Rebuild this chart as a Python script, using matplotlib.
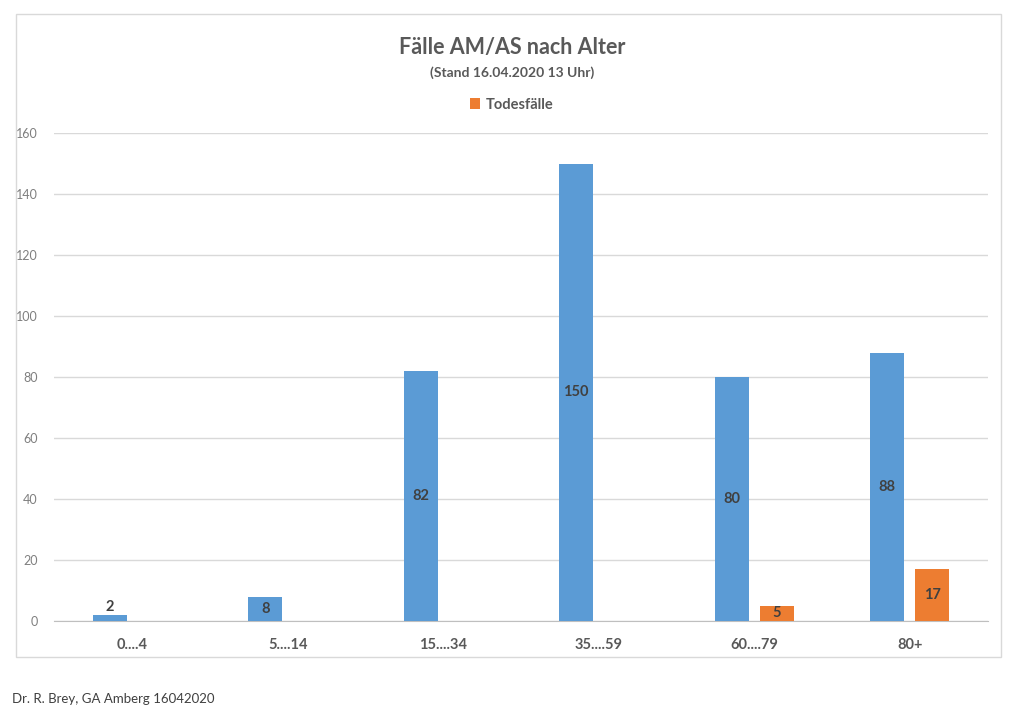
import matplotlib.pyplot as plt
from matplotlib.patches import Rectangle
import numpy as np

plt.rcParams['font.family'] = ['Lato', 'DejaVu Sans']

# Daten
altersgruppen = ['0....4', '5....14', '15....34', '35....59', '60....79', '80+']
faelle = [2, 8, 82, 150, 80, 88]
todesfaelle = [None, None, None, None, 5, 17]

blau = '#5B9BD5'
orange = '#ED7D31'
grau = '#595959'

fig = plt.figure(figsize=(10.24, 7.17), dpi=100)
ax = fig.add_axes([0.0532, 0.1339, 0.9112, 0.6806])

x = np.arange(len(altersgruppen))
breite = 0.22
versatz = 0.145

# Fälle (blau)
ax.bar(x - versatz, faelle, width=breite, color=blau, zorder=3)
for xi, v in zip(x, faelle):
    y = v / 2 if v >= 5 else v + 2.6
    ax.text(xi - versatz, y, str(v), ha='center', va='center',
            fontsize=10.5, fontweight='bold', color='#404040', zorder=4)

# Todesfälle (orange)
tx = [xi + versatz for xi, v in zip(x, todesfaelle) if v is not None]
tv = [v for v in todesfaelle if v is not None]
ax.bar(tx, tv, width=breite, color=orange, zorder=3, label='Todesfälle')
for xi, v in zip(tx, tv):
    ax.text(xi, v / 2, str(v), ha='center', va='center',
            fontsize=10.5, fontweight='bold', color='#404040', zorder=4)

ax.set_xlim(-0.5, len(altersgruppen) - 0.5)
ax.set_ylim(0, 160)
ax.set_yticks(range(0, 161, 20))
ax.grid(axis='y', color='#D9D9D9', linewidth=1, zorder=0)
ax.set_xticks(x)
ax.set_xticklabels(altersgruppen, fontsize=10.5, fontweight='bold', color=grau)
ax.tick_params(axis='x', length=0, pad=12)
ax.tick_params(axis='y', length=0, pad=12, labelsize=9, labelcolor='#7F7F7F')
for s in ['top', 'right', 'left']:
    ax.spines[s].set_visible(False)
ax.spines['bottom'].set_color('#BFBFBF')

# Titel
fig.text(0.5, 0.934, 'Fälle AM/AS nach Alter', ha='center', va='center',
         fontsize=15.5, fontweight='bold', color=grau)
fig.text(0.5, 0.899, '(Stand 16.04.2020 13 Uhr)', ha='center', va='center',
         fontsize=10, fontweight='bold', color=grau)

# Legende
fig.legend(loc='center', bbox_to_anchor=(0.5, 0.854), frameon=False,
           handlelength=0.7, handleheight=0.7, handletextpad=0.4,
           prop={'weight': 'bold', 'size': 10.5}, labelcolor=grau)

# Rahmen
fig.patches.append(Rectangle((16 / 1024, 1 - 657 / 717), 985 / 1024, 643 / 717,
                             transform=fig.transFigure, fill=False,
                             edgecolor='#D9D9D9', linewidth=1))

fig.text(12 / 1024, 1 - 699 / 717, 'Dr. R. Brey, GA Amberg 16042020',
         ha='left', va='center', fontsize=9.5, color='#404040')

fig.savefig('out.png', dpi=100)
